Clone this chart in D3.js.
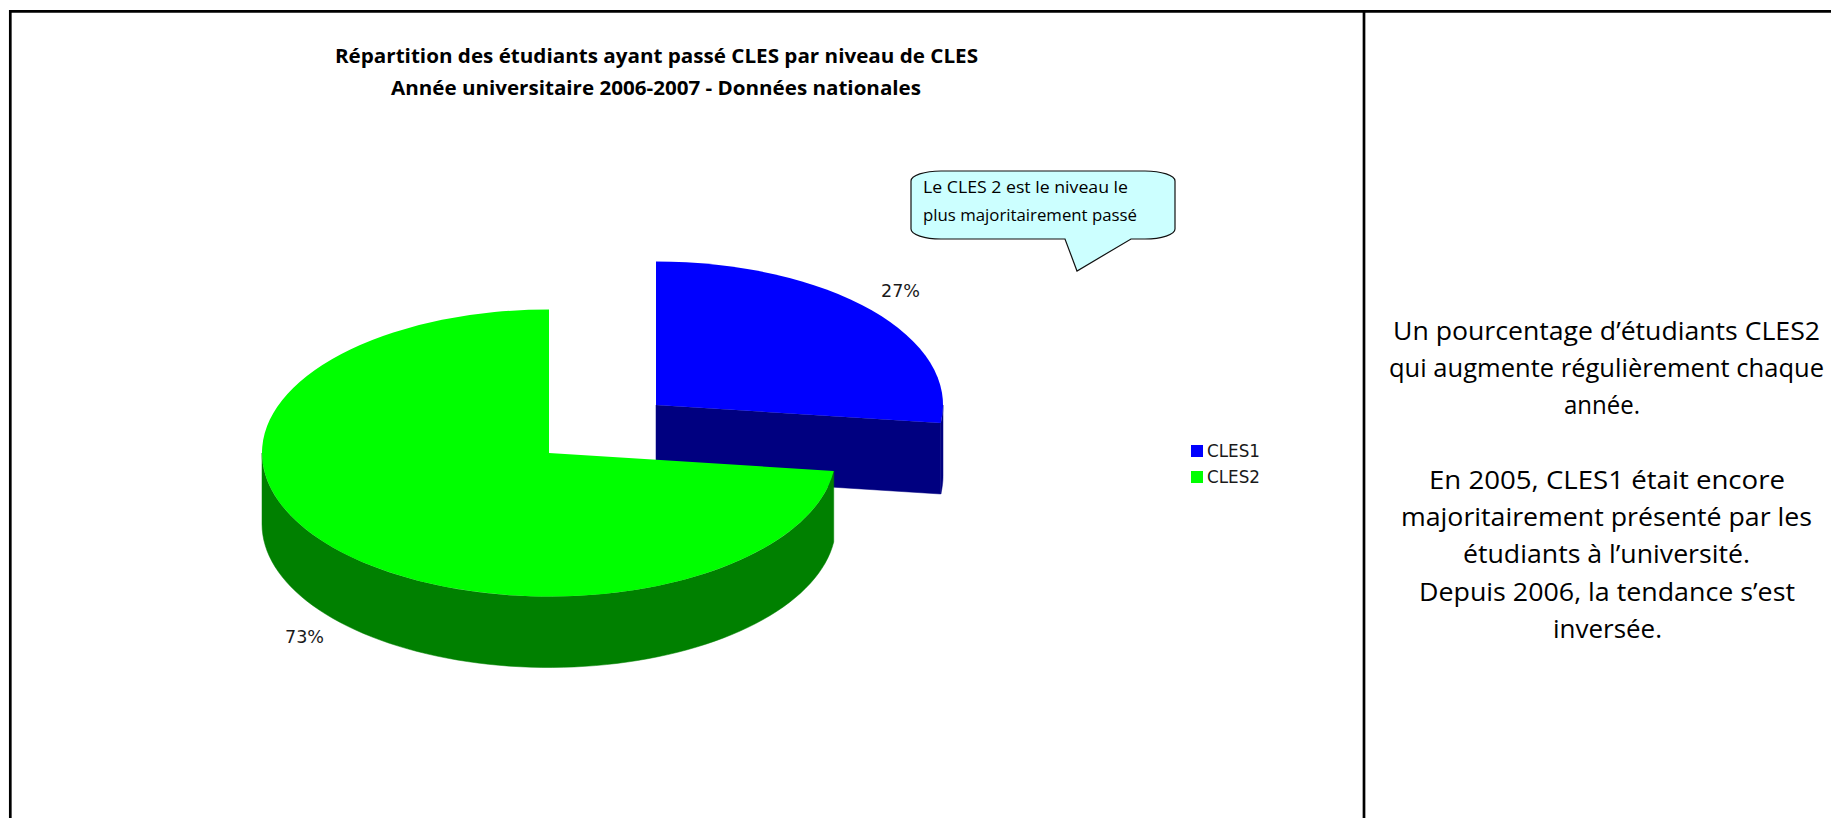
<!DOCTYPE html>
<html><head><meta charset="utf-8">
<script src="https://cdn.jsdelivr.net/npm/d3@7"></script>
<style>html,body{margin:0;padding:0;background:#fff;overflow:hidden}svg{display:block}</style>
</head><body><div id="chart"></div>
<script>
const categories = ["CLES1", "CLES2"];
const values = [27, 73];
const topColors = ["#0000ff", "#00ff00"];
const sideColors = ["#000080", "#008000"];
const valueLabels = ["27%", "73%"];
const titleLines = ["Répartition des étudiants ayant passé CLES par niveau de CLES", "Année universitaire 2006-2007 - Données nationales"];
const calloutLines = ["Le CLES 2 est le niveau le", "plus majoritairement passé"];
const commentLines = ["Un pourcentage d’étudiants CLES2", "qui augmente régulièrement chaque", "année.", "", "En 2005, CLES1 était encore", "majoritairement présenté par les", "étudiants à l’université.", "Depuis 2006, la tendance s’est", "inversée."];

const W = 1831, H = 818;
const svg = d3.select("#chart").append("svg").attr("width", W).attr("height", H);
const hand = "'Comic Sans MS','Open Sans',sans-serif";
const plain = "Verdana,'DejaVu Sans',sans-serif";

// frame
const frame = svg.append("g").attr("stroke", "#000").attr("stroke-width", 2.7);
frame.append("line").attr("x1", 9).attr("x2", W).attr("y1", 11.3).attr("y2", 11.3);
frame.append("line").attr("x1", 10.3).attr("x2", 10.3).attr("y1", 10).attr("y2", H);
frame.append("line").attr("x1", 1364).attr("x2", 1364).attr("y1", 10).attr("y2", H);

// pie geometry
const rx = 287, ry = 143.5, depth = 71;
const cx = 549, cy = 453;
const offsets = [[107, -48], [0, 0]];
const slices = d3.pie().sort(null)(values);
const arc = d3.arc().innerRadius(0).outerRadius(rx);
const px = (a, dx) => cx + dx + rx * Math.sin(a);
const py = (a, dy) => cy + dy - ry * Math.cos(a);

function rimPath(a0, a1, dx, dy) {
  const n = 80, pts = d3.range(n + 1).map(i => a0 + (a1 - a0) * i / n);
  const top = pts.map(a => [px(a, dx), py(a, dy)]);
  const bot = pts.slice().reverse().map(a => [px(a, dx), py(a, dy) + depth]);
  return d3.line()(top.concat(bot)) + "Z";
}

slices.forEach((s, i) => {
  const [dx, dy] = offsets[i];
  const g = svg.append("g");
  const side = sideColors[i];
  // visible side: the lower half of the rim
  const lo = Math.max(s.startAngle, Math.PI / 2), hi = Math.min(s.endAngle, Math.PI * 1.5);
  if (hi > lo) g.append("path").attr("d", rimPath(lo, hi, dx, dy)).attr("fill", side).attr("stroke", side).attr("stroke-width", .5);
  // visible cut face of the detached slice
  if (i === 0) {
    const ax = cx + dx, ay = cy + dy, e = s.endAngle;
    g.append("path").attr("d", d3.line()([[ax, ay], [px(e, dx), py(e, dy)], [px(e, dx), py(e, dy) + depth], [ax, ay + depth]]) + "Z")
      .attr("fill", side).attr("stroke", side).attr("stroke-width", .5);
  }
  g.append("path").attr("d", arc(s))
    .attr("transform", `translate(${cx + dx},${cy + dy}) scale(1,${ry / rx})`)
    .attr("fill", topColors[i]);
});

// value labels
const labelPos = [[881, 297, 39], [285, 643, 39]];
valueLabels.forEach((t, i) => svg.append("text").text(t)
  .attr("x", labelPos[i][0]).attr("y", labelPos[i][1])
  .attr("textLength", labelPos[i][2]).attr("lengthAdjust", "spacingAndGlyphs")
  .attr("font-family", plain).attr("font-size", 17).attr("fill", "#1a1a1a"));

// legend
const legendY = d3.scalePoint().domain(categories).range([445, 471]);
categories.forEach((c, i) => {
  svg.append("rect").attr("x", 1191).attr("y", legendY(c)).attr("width", 12).attr("height", 12).attr("fill", topColors[i]);
  svg.append("text").text(c).attr("x", 1207).attr("y", legendY(c) + 12)
    .attr("textLength", 53).attr("lengthAdjust", "spacingAndGlyphs")
    .attr("font-family", plain).attr("font-size", 17).attr("fill", "#1a1a1a");
});

// title
const titleSpec = [[335, 63, 643], [391, 95, 530]];
titleLines.forEach((t, i) => svg.append("text").text(t)
  .attr("x", titleSpec[i][0]).attr("y", titleSpec[i][1])
  .attr("textLength", titleSpec[i][2]).attr("lengthAdjust", "spacingAndGlyphs")
  .attr("font-family", hand).attr("font-size", 20).attr("font-weight", 700).attr("fill", "#000"));

// callout
const bx0 = 911, bx1 = 1175, by0 = 171, by1 = 239, crx = 30, cry = 10;
svg.append("path").attr("d",
  `M${bx0 + crx},${by0} L${bx1 - crx},${by0} A${crx},${cry} 0 0 1 ${bx1},${by0 + cry} L${bx1},${by1 - cry} A${crx},${cry} 0 0 1 ${bx1 - crx},${by1}
   L1131,${by1} L1077,271 L1065,${by1} L${bx0 + crx},${by1} A${crx},${cry} 0 0 1 ${bx0},${by1 - cry} L${bx0},${by0 + cry} A${crx},${cry} 0 0 1 ${bx0 + crx},${by0}Z`)
  .attr("fill", "#ccffff").attr("stroke", "#111").attr("stroke-width", 1.2);
const calloutSpec = [[923, 193, 205], [923, 221, 214]];
calloutLines.forEach((t, i) => svg.append("text").text(t)
  .attr("x", calloutSpec[i][0]).attr("y", calloutSpec[i][1])
  .attr("textLength", calloutSpec[i][2]).attr("lengthAdjust", "spacingAndGlyphs")
  .attr("font-family", hand).attr("font-size", 17).attr("fill", "#000"));

// comment text
const commentSpec = [[1393, 340, 427], [1389, 377, 435], [1564, 414, 76], null, [1429, 489, 356], [1401, 526, 411], [1463, 563, 287], [1419, 601, 376], [1553, 638, 109]];
commentLines.forEach((t, i) => {
  if (!commentSpec[i]) return;
  svg.append("text").text(t).attr("x", commentSpec[i][0]).attr("y", commentSpec[i][1])
    .attr("textLength", commentSpec[i][2]).attr("lengthAdjust", "spacingAndGlyphs")
    .attr("font-family", hand).attr("font-size", 26).attr("fill", "#000");
});
</script></body></html>
